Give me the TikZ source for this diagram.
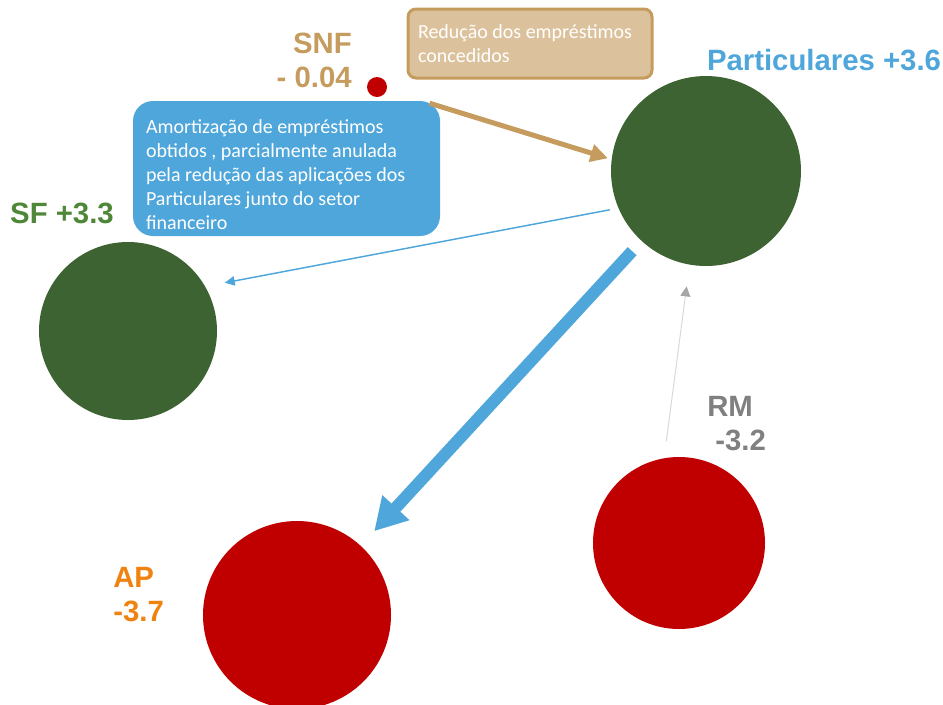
\documentclass[tikz,border=0pt]{standalone}
\usepackage{fontspec}
\setmainfont{Carlito}
\newfontfamily\arialfont{Liberation Sans}
\usepackage{tikz}
\usetikzlibrary{positioning,arrows.meta}

\definecolor{sectorgreen}{HTML}{3D6333}
\definecolor{sfgreen}{HTML}{4E8738}
\definecolor{sectorred}{HTML}{C00000}
\definecolor{flowblue}{HTML}{4EA6DA}
\definecolor{snftan}{HTML}{C59B5E}
\definecolor{tanfill}{HTML}{DCC29C}
\definecolor{aporange}{HTML}{F0820F}
\definecolor{rmgray}{HTML}{808080}
\definecolor{faintgray}{HTML}{D9D9D9}
\definecolor{tipgray}{HTML}{A6A6A6}

\begin{document}
\begin{tikzpicture}[x=0.75pt, y=-0.75pt,
  sector/.style={circle, inner sep=0pt, outer sep=0pt},
  sectorlabel/.style={inner sep=0pt, font=\arialfont\bfseries\fontsize{22}{25.5}\selectfont},
  notebox/.style={rectangle, align=flush left, text=white, font=\fontsize{15}{18}\selectfont}]
\useasboundingbox (0,0) rectangle (943,704);

% sectors
\node (part_circle) at (706,171) [sector, fill=sectorgreen, minimum size=142.5pt] {};
\node (sf_circle) at (128,331) [sector, fill=sectorgreen, minimum size=133.5pt] {};
\node (ap_circle) at (297,615) [sector, fill=sectorred, minimum size=141pt] {};
\node (rm_circle) at (679,543) [sector, fill=sectorred, minimum size=129pt] {};
\node (snf_dot) at (377,87) [sector, fill=sectorred, minimum size=15pt] {};

% labels
\node (part_label) at (824,60) [sectorlabel, text=flowblue] {Particulares +3.6};
\node (sf_label) at (62,213) [sectorlabel, text=sfgreen] {SF +3.3};
\node (snf_label) at (352,60) [sectorlabel, anchor=east, align=right, text=snftan] {SNF\\- 0.04};
\node (rm_label) at (707,424) [sectorlabel, anchor=west, align=left, text=rmgray] {RM\\\hspace*{6pt}-3.2};
\node (ap_label) at (113,595) [sectorlabel, anchor=west, align=left, text=aporange] {AP\\-3.7};

% notes
\node (loan_box) at (530,43.5) [notebox, fill=tanfill, draw=snftan, line width=2.25pt, rounded corners=6pt, text width=168pt, inner xsep=7.5pt, minimum height=51.75pt] {Redução dos empréstimos\\concedidos};
\node (amort_box) at (286.5,168.5) [notebox, fill=flowblue, rounded corners=15pt, text width=210.75pt, inner xsep=9.75pt, minimum height=101.25pt] {\rule{0pt}{20pt}Amortização de empréstimos\\obtidos , parcialmente anulada\\pela redução das aplicações dos\\Particulares junto do setor\\financeiro};

% flows
\draw [snftan, line width=3.75pt, -{Triangle[length=13pt, width=13pt]}, shorten <=33.75pt, shorten >=3pt] (snf_dot) -- (part_circle.173);
\draw [flowblue, line width=1.1pt, -{Triangle[length=7.5pt, width=7pt]}, shorten <=6.75pt, shorten >=15pt] (part_circle.203) -- (sf_circle.30);
\draw [flowblue, line width=9pt, -{Triangle[length=24pt, width=26pt]}, shorten <=10.5pt, shorten >=15pt] (part_circle) -- (ap_circle);
\draw [faintgray, line width=0.75pt, -{Triangle[length=7.5pt, width=7.5pt, color=tipgray]}, shorten <=12.75pt, shorten >=16.5pt] (rm_circle.100) -- (part_circle.260);

\end{tikzpicture}
\end{document}
